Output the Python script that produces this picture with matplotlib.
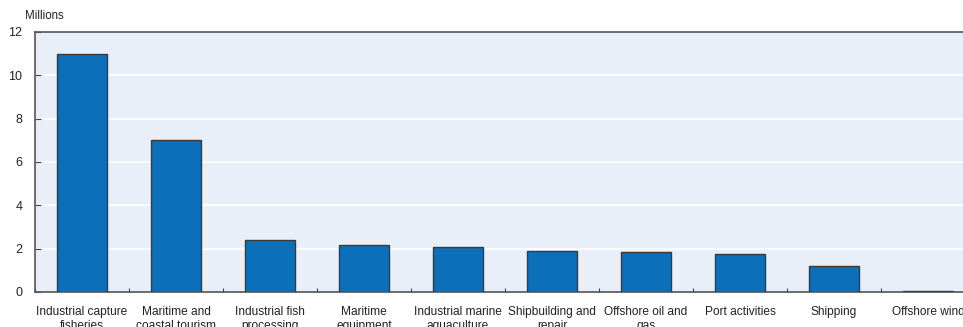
import matplotlib
matplotlib.use("Agg")
import matplotlib.pyplot as plt
import numpy as np

categories = ["Industrial capture\nfisheries", "Maritime and\ncoastal tourism", "Industrial fish\nprocessing",
              "Maritime\nequipment", "Industrial marine\naquaculture", "Shipbuilding and\nrepair",
              "Offshore oil and\ngas", "Port activities", "Shipping", "Offshore wind"]
values = [11.0, 7.0, 2.4, 2.15, 2.07, 1.89, 1.84, 1.74, 1.2, 0.03]
yticks = [0, 2, 4, 6, 8, 10, 12]

plt.rcParams['font.family'] = ['Liberation Sans', 'DejaVu Sans']

fig = plt.figure(figsize=(9.63, 3.27), dpi=100)
ax = fig.add_axes([35/963, 35/327, 940/963, 260/327])
ax.set_facecolor('#E9EFF8')

x = np.arange(len(categories))
ax.bar(x, values, width=0.53, color='#0C6FBA', edgecolor='#3a3a3a', linewidth=1.0, zorder=3)

ax.set_xlim(-0.5, len(categories) - 0.5)
ax.set_ylim(0, 12)
ax.set_yticks(yticks)
ax.set_yticklabels([str(v) for v in yticks], fontsize=9, color='#222222')
for v in yticks[1:-1]:
    ax.axhline(v, color='white', linewidth=1.1, zorder=1)

ax.set_xticks(x)
ax.set_xticklabels(categories, fontsize=8.6, color='#222222', linespacing=1.27)
ax.set_xticks(np.arange(len(categories) + 1) - 0.5, minor=True)
ax.tick_params(axis='x', which='major', length=0, pad=10)
ax.tick_params(axis='x', which='minor', length=3, direction='in', color='#444444', width=0.8)
ax.tick_params(axis='y', length=4, direction='in', color='#444444', width=0.8, pad=9)

for s in ['left', 'bottom', 'top']:
    ax.spines[s].set_color('#555555')
    ax.spines[s].set_linewidth(1.2)
ax.spines['right'].set_visible(False)

fig.text(25/963, 1 - 16/327, "Millions", fontsize=8.3, color='#222222', va='center', ha='left')

fig.savefig("out.png", dpi=100)
